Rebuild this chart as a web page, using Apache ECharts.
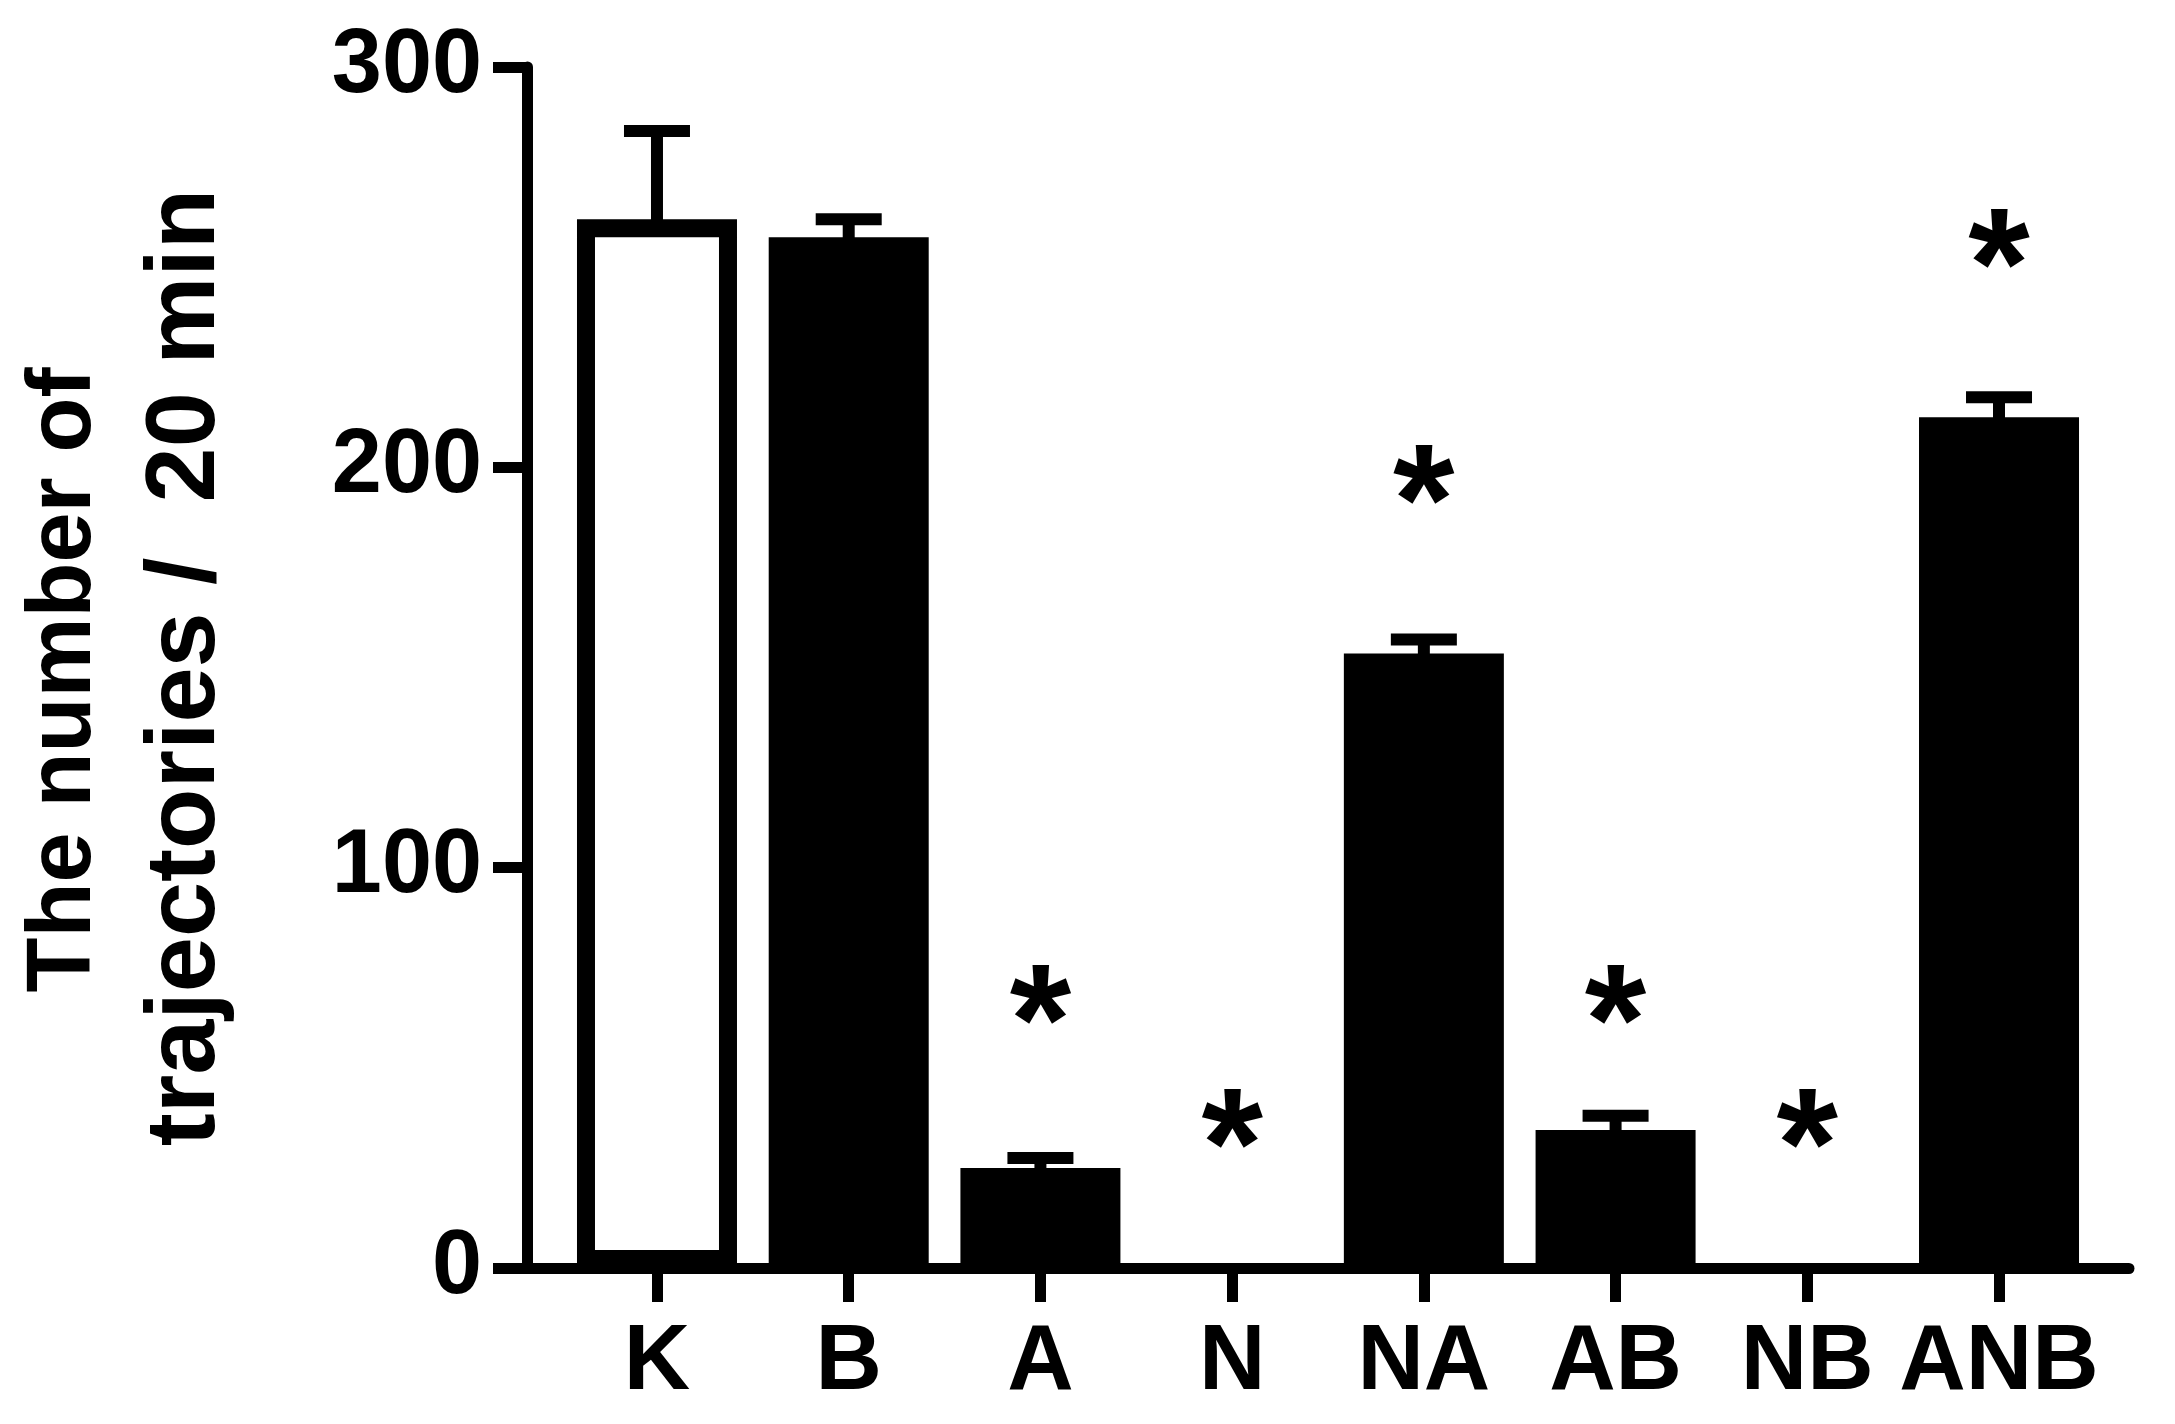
<!DOCTYPE html>
<html>
<head>
<meta charset="utf-8">
<script src="https://cdn.jsdelivr.net/npm/echarts@6/dist/echarts.min.js"></script>
<style>
  html, body { margin: 0; padding: 0; background: #ffffff; }
  #chart { width: 2175px; height: 1424px; }
</style>
</head>
<body>
<div id="chart"></div>
<script>
// ---- data ----
const categories = ['K', 'B', 'A', 'N', 'NA', 'AB', 'NB', 'ANB'];
const means = [262, 257.5, 25, 0, 153.5, 34.5, 0, 212.5];
const errors = [22, 4.5, 2.5, 0, 3.5, 3.5, 0, 5];
const asteriskY = [null, null, 68, 37, 198, 68, 37, 257];
const yTickValues = [0, 100, 200, 300];
const yTitleLine1 = 'The number of ';
const yTitleLine2 = 'trajectories /  20 min';
const hollowCategories = ['K'];

// ---- build ----
const FONT = '"Liberation Sans", Arial, Helvetica, sans-serif';
const idx = categories.map((c, i) => i);

const barData = means.map((v, i) => {
  const hollow = hollowCategories.includes(categories[i]);
  return {
    value: [i, v],
    itemStyle: {
      color: hollow ? '#ffffff' : '#000000',
      borderColor: '#000000',
      borderWidth: v === 0 ? 0 : 18
    }
  };
});
const errData = means.map((v, i) => [i, v, errors[i]]);
const starData = [];
asteriskY.forEach((y, i) => { if (y !== null) starData.push([i, y]); });

const chart = echarts.init(document.getElementById('chart'), null, { renderer: 'canvas' });
chart.setOption({
  backgroundColor: '#ffffff',
  animation: false,
  grid: { left: 527, right: 46, top: 67, bottom: 156, containLabel: false, outerBoundsMode: 'none' },
  xAxis: {
    type: 'value',
    min: -0.678,
    max: 7.678,
    splitLine: { show: false },
    axisLine: { show: true, onZero: false, lineStyle: { color: '#000', width: 11 } },
    axisTick: { show: true, customValues: idx, length: 34, lineStyle: { color: '#000', width: 11 } },
    axisLabel: {
      show: true,
      customValues: idx,
      formatter: v => categories[Math.round(v)],
      fontFamily: FONT, fontWeight: 'bold', fontSize: 92, color: '#000', margin: 50
    }
  },
  yAxis: {
    type: 'value',
    min: 0,
    max: 300,
    interval: 100,
    splitLine: { show: false },
    axisLine: { show: true, onZero: false, lineStyle: { color: '#000', width: 11 } },
    axisTick: { show: true, length: 34, lineStyle: { color: '#000', width: 11 } },
    axisLabel: {
      customValues: yTickValues,
      fontFamily: FONT, fontWeight: 'bold', fontSize: 90, color: '#000', margin: 45
    },
    name: '{l1|' + yTitleLine1 + '}\n{l2|' + yTitleLine2 + '}',
    nameLocation: 'middle',
    nameGap: 280,
    nameTextStyle: {
      fontFamily: FONT, fontWeight: 'bold', fontSize: 99, color: '#000',
      lineHeight: 121, align: 'center',
      rich: {
        l1: { fontFamily: FONT, fontWeight: 'bold', fontSize: 90, color: '#000', lineHeight: 121 },
        l2: { fontFamily: FONT, fontWeight: 'bold', fontSize: 99, color: '#000', lineHeight: 121 }
      }
    }
  },
  series: [
    {
      type: 'bar',
      data: barData,
      barWidth: 160,
      z: 2
    },
    {
      type: 'custom',
      data: errData,
      encode: { x: 0, y: 1 },
      z: 3,
      renderItem: function (params, api) {
        const x = api.value(0), m = api.value(1), e = api.value(2);
        if (!e) return null;
        const base = api.coord([x, m]);
        const top = api.coord([x, m + e]);
        return {
          type: 'group',
          children: [
            { type: 'line', shape: { x1: base[0], y1: base[1] + 9, x2: top[0], y2: top[1] },
              style: { stroke: '#000', lineWidth: 12 } },
            { type: 'line', shape: { x1: top[0] - 33, y1: top[1], x2: top[0] + 33, y2: top[1] },
              style: { stroke: '#000', lineWidth: 12 } }
          ]
        };
      }
    },
    {
      type: 'scatter',
      data: starData,
      symbol: 'circle',
      symbolSize: 1,
      itemStyle: { color: 'rgba(0,0,0,0)', opacity: 1 },
      z: 4,
      label: {
        show: true,
        position: 'inside',
        formatter: '*',
        fontFamily: FONT,
        fontWeight: 'bold',
        fontSize: 158,
        color: '#000000',
        opacity: 1,
        offset: [0, 35]
      }
    }
  ]
});
</script>
</body>
</html>
